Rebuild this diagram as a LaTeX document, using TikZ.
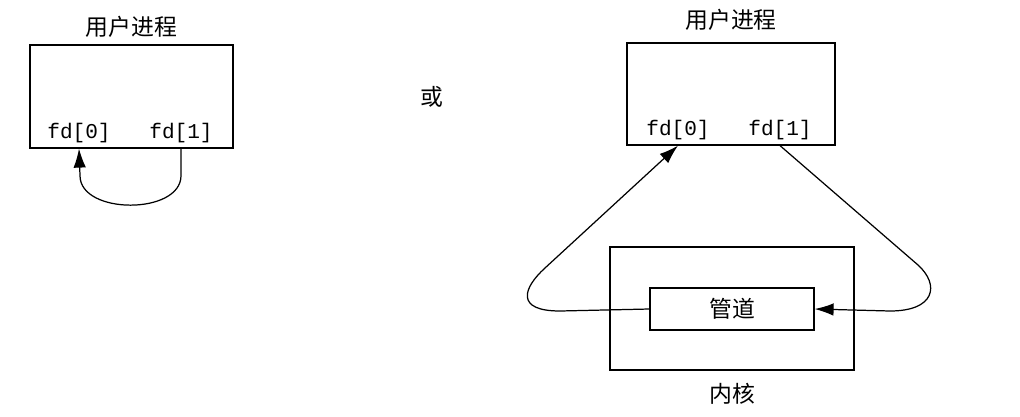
\documentclass[tikz,border=0pt]{standalone}
\usepackage{fontspec}
\setmonofont{Liberation Mono}
\newfontfamily\cjk{Noto Sans CJK SC}
\usetikzlibrary{arrows.meta,positioning}
\tikzset{
    box/.style={draw,line width=0.7pt,inner sep=0pt},
    cjktext/.style={font=\cjk\fontsize{13}{15}\selectfont,inner sep=0pt},
    fdtext/.style={font=\ttfamily\fontsize{12}{14}\selectfont,inner sep=0pt},
    flow/.style={line width=0.7pt,-{Latex[length=0.38cm,width=0.25cm]}},
}

\begin{document}
\begin{tikzpicture}[x=0.02cm,y=0.02cm]
\useasboundingbox (0,0) rectangle (1020,-416);
% one process, pipe to itself
\node[box,minimum width=4.06cm,minimum height=2.06cm] (lproc) at (131.5,-96.5) {};
\node[cjktext,above=0.13cm of lproc] (ltitle) {用户进程};
\node[fdtext] (lfd0) at (79,-133) {fd[0]};
\node[fdtext] (lfd1) at (181,-133) {fd[1]};
\draw[flow] (lfd1 |- lproc.south) -- ++(0,-27)
    to[out=-90,in=-90] ++(-101,0) -- (lfd0 |- lproc.south);

\node[cjktext] (or) at (432,-97) {或};

% process and kernel
\node[box,minimum width=4.16cm,minimum height=2.04cm] (rproc) at (731,-94) {};
\node[cjktext,above=0.23cm of rproc] (rtitle) {用户进程};
\node[fdtext] (rfd0) at (678,-130) {fd[0]};
\node[fdtext] (rfd1) at (780,-130) {fd[1]};
\node[box,minimum width=4.88cm,minimum height=2.46cm] (kernel) at (732,-308.5) {};
\node[cjktext,below=0.25cm of kernel] (klabel) {内核};
\node[box,minimum width=3.28cm,minimum height=0.84cm,cjktext] (pipe) at (732,-309) {管道};
\coordinate (lturn) at (560,-311);
\coordinate (lbend) at (545,-268);
\coordinate (rturn) at (890,-311);
\coordinate (rbend) at (918,-265);
\draw[flow] (pipe.west) -- (lturn)
    .. controls +(-45,0) and +(-22,-20) .. (lbend) -- (rfd0 |- rproc.south);
\draw[flow] (rfd1 |- rproc.south) -- (rbend)
    .. controls +(22,-20) and +(45,0) .. (rturn) -- (pipe.east);
\end{tikzpicture}
\end{document}
